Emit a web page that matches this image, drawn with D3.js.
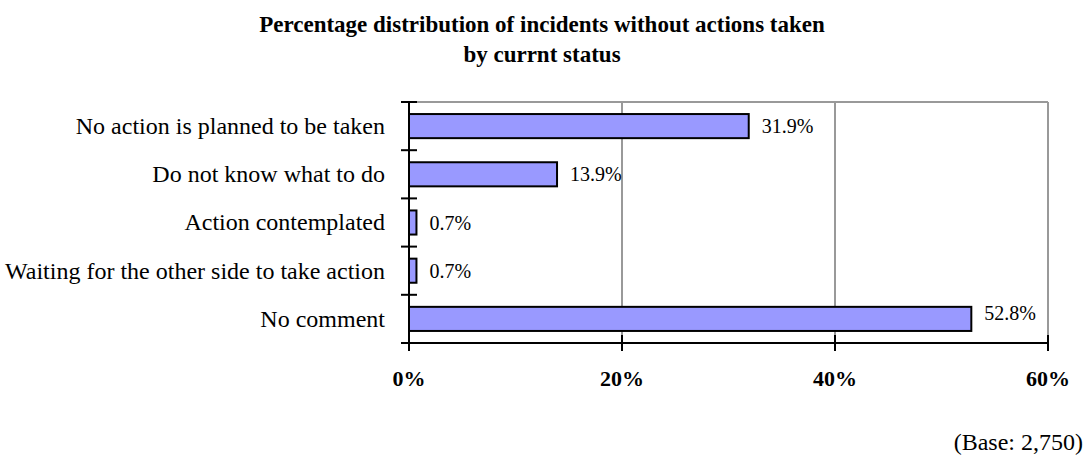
<!DOCTYPE html>
<html>
<head>
<meta charset="utf-8">
<script src="https://cdn.jsdelivr.net/npm/d3@7"></script>
<style>
  body { margin: 0; background: #fff; }
  svg { display: block; font-family: "Liberation Serif", "Times New Roman", serif; }
</style>
</head>
<body>
<svg id="chart" width="1085" height="456"></svg>
<script>
// Incidents without actions taken, by current status (percent of base)
const categories = [
  "No action is planned to be taken",
  "Do not know what to do",
  "Action contemplated",
  "Waiting for the other side to take action",
  "No comment"
];
const values = [31.9, 13.9, 0.7, 0.7, 52.8];
const xTicks = [0, 20, 40, 60];
const titleLines = [
  "Percentage distribution of incidents without actions taken",
  "by currnt status"
];
const baseNote = "(Base: 2,750)";

const svg = d3.select("#chart");
const plot = { left: 409, right: 1048, top: 102, bottom: 343 };

const x = d3.scaleLinear().domain([0, 60]).range([plot.left, plot.right]);
const y = d3.scaleBand().domain(categories).range([plot.top, plot.bottom]).paddingInner(0.5).paddingOuter(0.25);
const yEdges = d3.scaleBand().domain(categories).range([plot.top, plot.bottom]);

// Title
svg.append("g").selectAll("text").data(titleLines).join("text")
  .attr("x", 542).attr("y", (d, i) => 32 + i * 30)
  .attr("text-anchor", "middle")
  .attr("font-size", 23).attr("font-weight", "bold")
  .text(d => d);

// Gridlines and plot frame (grey)
const grid = svg.append("g").attr("stroke", "#999").attr("stroke-width", 2);
grid.selectAll("line.v").data(xTicks.filter(t => t > 0)).join("line")
  .attr("x1", d => x(d)).attr("x2", d => x(d))
  .attr("y1", plot.top).attr("y2", plot.bottom);
grid.append("line")
  .attr("x1", plot.left).attr("x2", plot.right)
  .attr("y1", plot.top).attr("y2", plot.top);

// Bars
svg.append("g").selectAll("rect").data(values).join("rect")
  .attr("x", x(0))
  .attr("y", (d, i) => y(categories[i]))
  .attr("width", d => x(d) - x(0))
  .attr("height", y.bandwidth())
  .attr("fill", "#9999ff")
  .attr("stroke", "#000")
  .attr("stroke-width", 2);

// Value labels
svg.append("g").selectAll("text").data(values).join("text")
  .attr("x", d => x(d) + 13)
  .attr("y", (d, i) => y(categories[i]) + y.bandwidth() / 2)
  .attr("dy", (d, i) => i === categories.length - 1 ? "0.05em" : "0.35em")
  .attr("font-size", 20)
  .text(d => d.toFixed(1) + "%");

// Left (category) axis: line with crossing ticks at band edges
const yAxis = svg.append("g").attr("stroke", "#000").attr("stroke-width", 2);
yAxis.append("line")
  .attr("x1", plot.left).attr("x2", plot.left)
  .attr("y1", plot.top).attr("y2", plot.bottom);
const edges = categories.map(c => yEdges(c)).concat([plot.bottom]);
yAxis.selectAll("line.t").data(edges).join("line")
  .attr("x1", plot.left - 8).attr("x2", plot.left + 8)
  .attr("y1", d => d).attr("y2", d => d);

svg.append("g").selectAll("text").data(categories).join("text")
  .attr("x", plot.left - 24)
  .attr("y", d => yEdges(d) + yEdges.bandwidth() / 2)
  .attr("dy", "0.33em")
  .attr("text-anchor", "end")
  .attr("font-size", 24)
  .text(d => d);

// Bottom (value) axis
const xAxis = svg.append("g").attr("stroke", "#000").attr("stroke-width", 2);
xAxis.append("line")
  .attr("x1", plot.left).attr("x2", plot.right)
  .attr("y1", plot.bottom).attr("y2", plot.bottom);
xAxis.selectAll("line.t").data(xTicks).join("line")
  .attr("x1", d => x(d)).attr("x2", d => x(d))
  .attr("y1", plot.bottom - 8).attr("y2", plot.bottom + 8);

svg.append("g").selectAll("text").data(xTicks).join("text")
  .attr("x", d => x(d))
  .attr("y", 386)
  .attr("text-anchor", "middle")
  .attr("font-size", 22).attr("font-weight", "bold")
  .text(d => d + "%");

// Base note
svg.append("text")
  .attr("x", 1083).attr("y", 450)
  .attr("text-anchor", "end")
  .attr("font-size", 24)
  .text(baseNote);
</script>
</body>
</html>
